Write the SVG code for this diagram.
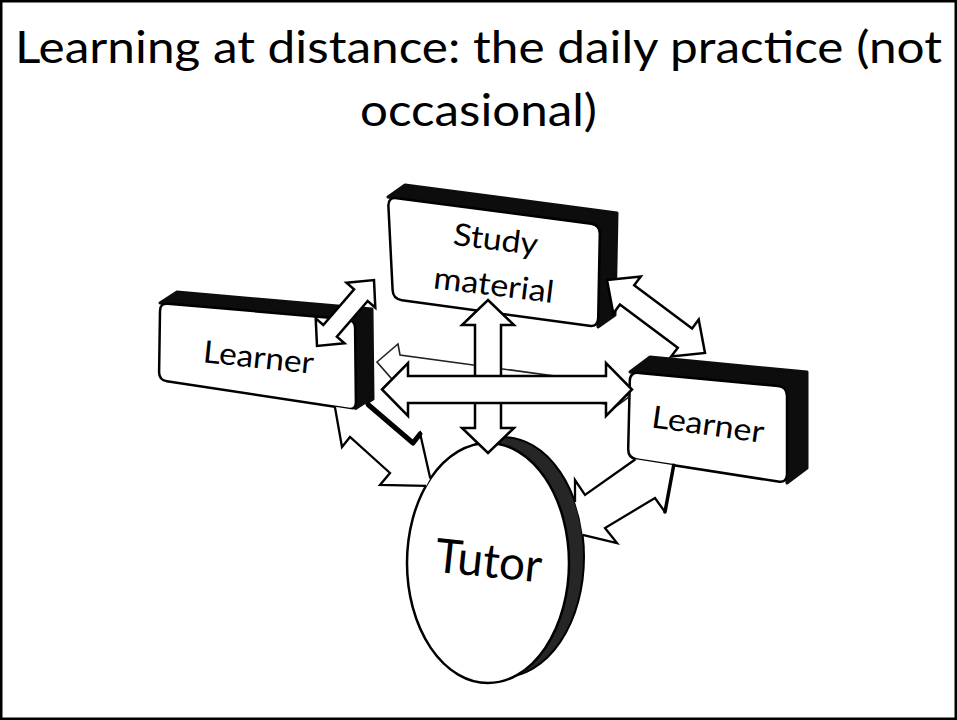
<svg xmlns="http://www.w3.org/2000/svg" width="957" height="720" viewBox="0 0 957 720">
<defs>
<style>
.t{font-family:Lato,"Open Sans","DejaVu Sans",sans-serif;fill:#000}
.face{fill:#fff;stroke:#000;stroke-width:2.5;stroke-linejoin:round}
.side{fill:#0d0d0d;stroke:#0d0d0d;stroke-width:3;stroke-linejoin:round}
.rim{fill:#262626;stroke:#000;stroke-width:2}
.arr{fill:#fff;stroke:#000;stroke-width:2.5;stroke-linejoin:miter}
.fl{fill:#fff;stroke:none}
.ln{fill:none;stroke:#000;stroke-width:2.3;stroke-linejoin:miter}
.thk{fill:none;stroke:#000;stroke-width:5;stroke-linecap:round;stroke-linejoin:round}
.back{fill:#fff;stroke:#222;stroke-width:1.6;stroke-linejoin:miter}
</style>
</defs>
<rect width="957" height="720" fill="#fff"/>
<rect x="1.25" y="1.25" width="954.5" height="717.5" fill="none" stroke="#000" stroke-width="2.5"/>
<g id="title">
<text class="t" x="478.5" y="63" font-size="44" text-anchor="middle" textLength="927" lengthAdjust="spacingAndGlyphs">Learning at distance: the daily practice (not</text>
<text class="t" x="478.5" y="126" font-size="44" text-anchor="middle" textLength="237" lengthAdjust="spacingAndGlyphs">occasional)</text>
</g>
<g id="tutor">
<ellipse class="rim" cx="503" cy="557" rx="81" ry="120"/>
<ellipse class="face" cx="488" cy="563" rx="81" ry="120"/>
<text class="t" transform="translate(487,577) rotate(6)" font-size="47" text-anchor="middle" textLength="107" lengthAdjust="spacingAndGlyphs">Tutor</text>
</g>
<g id="learner-left">
<polygon class="side" points="160,303 177,292 372,309 373,399 356,410 355,320"/>
<path class="face" d="M168,303.7 L347,319.3 Q355,320 355.1,328 L355.9,402 Q356,410 348.1,408.8 L166.9,381.2 Q159,380 159.1,372 L160,311 Q160,303 168,303.7 Z"/>
<text class="t" transform="translate(257.5,368) rotate(6)" font-size="31" text-anchor="middle" textLength="111" lengthAdjust="spacingAndGlyphs">Learner</text>
</g>
<g id="learner-right">
<polygon class="side" points="630,372 650,357 807,372 807,468 787,483 787,387"/>
<path class="face" d="M639,372.9 L778,386.1 Q787,387 787,396 L787,474 Q787,483 778.1,481.6 L636.9,459.4 Q628,458 628.2,449 L629.8,381 Q630,372 639,372.9 Z"/>
<text class="t" transform="translate(706.5,435) rotate(8)" font-size="31" text-anchor="middle" textLength="113" lengthAdjust="spacingAndGlyphs">Learner</text>
</g>
<g id="study-material">
<polygon class="side" points="388,197 405,185 617,213 615,315 598,327 600,225"/>
<path class="face" d="M396.9,198.2 L591.1,223.8 Q600,225 599.8,234 L598.2,318 Q598,327 589.1,325.8 L401.9,300.2 Q393,299 392.6,290 L388.4,206 Q388,197 396.9,198.2 Z"/>
<text class="t" transform="translate(494.5,250) rotate(7)" font-size="31" text-anchor="middle" textLength="85" lengthAdjust="spacingAndGlyphs">Study</text>
<text class="t" transform="translate(492.5,295.5) rotate(7)" font-size="31" text-anchor="middle" textLength="121" lengthAdjust="spacingAndGlyphs">material</text>
</g>
<g id="connectors">
<polygon class="back" points="377,362 398,344 400,355 606,383 606,373 629,397 606,414 606,404 400,377 398,386"/>
<g id="arrow-learner-left-tutor">
<polygon class="fl" points="334.85,406.8 342,447 350,437 390,473 380,485 426.2,485.9 430.3,478.6 420,433 413,443 366.8,403 356,410"/>
<polyline class="ln" points="334.85,406.8 342,447 350,437 390,473 380,485 426.2,485.9"/>
<polyline class="ln" points="430.3,478.6 420,433 413,443"/>
<polyline class="thk" points="368,404.5 413,443 420,434"/>
</g>
<g id="arrow-learner-right-tutor">
<polygon class="fl" points="635.5,459.2 585,495 575,480 575,502 579.6,518 582.6,534.8 617,543 605,528 655,498 665,512 673.7,465.2"/>
<polyline class="ln" points="635.5,459.2 585,495 575,480 575,502"/>
<polyline class="ln" points="582.6,534.8 617,543 605,528 655,498 665,512"/>
<polyline class="thk" style="stroke-width:3.5" points="665,512 673.7,465.2"/>
</g>
<polygon id="arrow-learner-study" class="arr" points="317,346 315.7,318.4 323.3,325 354.1,289.3 346.5,282.7 374,280 375.3,307.6 367.7,301 336.9,336.7 344.5,343.3"/>
<polygon id="arrow-study-learner" class="arr" points="607,280 640.8,276.5 634.2,285.3 692.1,328.4 698.7,319.6 705,353 671.2,356.5 677.8,347.7 619.9,304.6 613.3,313.4"/>
<polygon id="arrow-study-tutor" class="arr" points="488,300 514,325 501,325 501,428 514,428 488,453 462,428 475,428 475,325 462,325"/>
<polygon id="arrow-learner-learner" class="arr" points="382,389.5 408,363 408,376 606,376 606,363 632,389.5 606,416 606,403 408,403 408,416"/>
</g>
</svg>
